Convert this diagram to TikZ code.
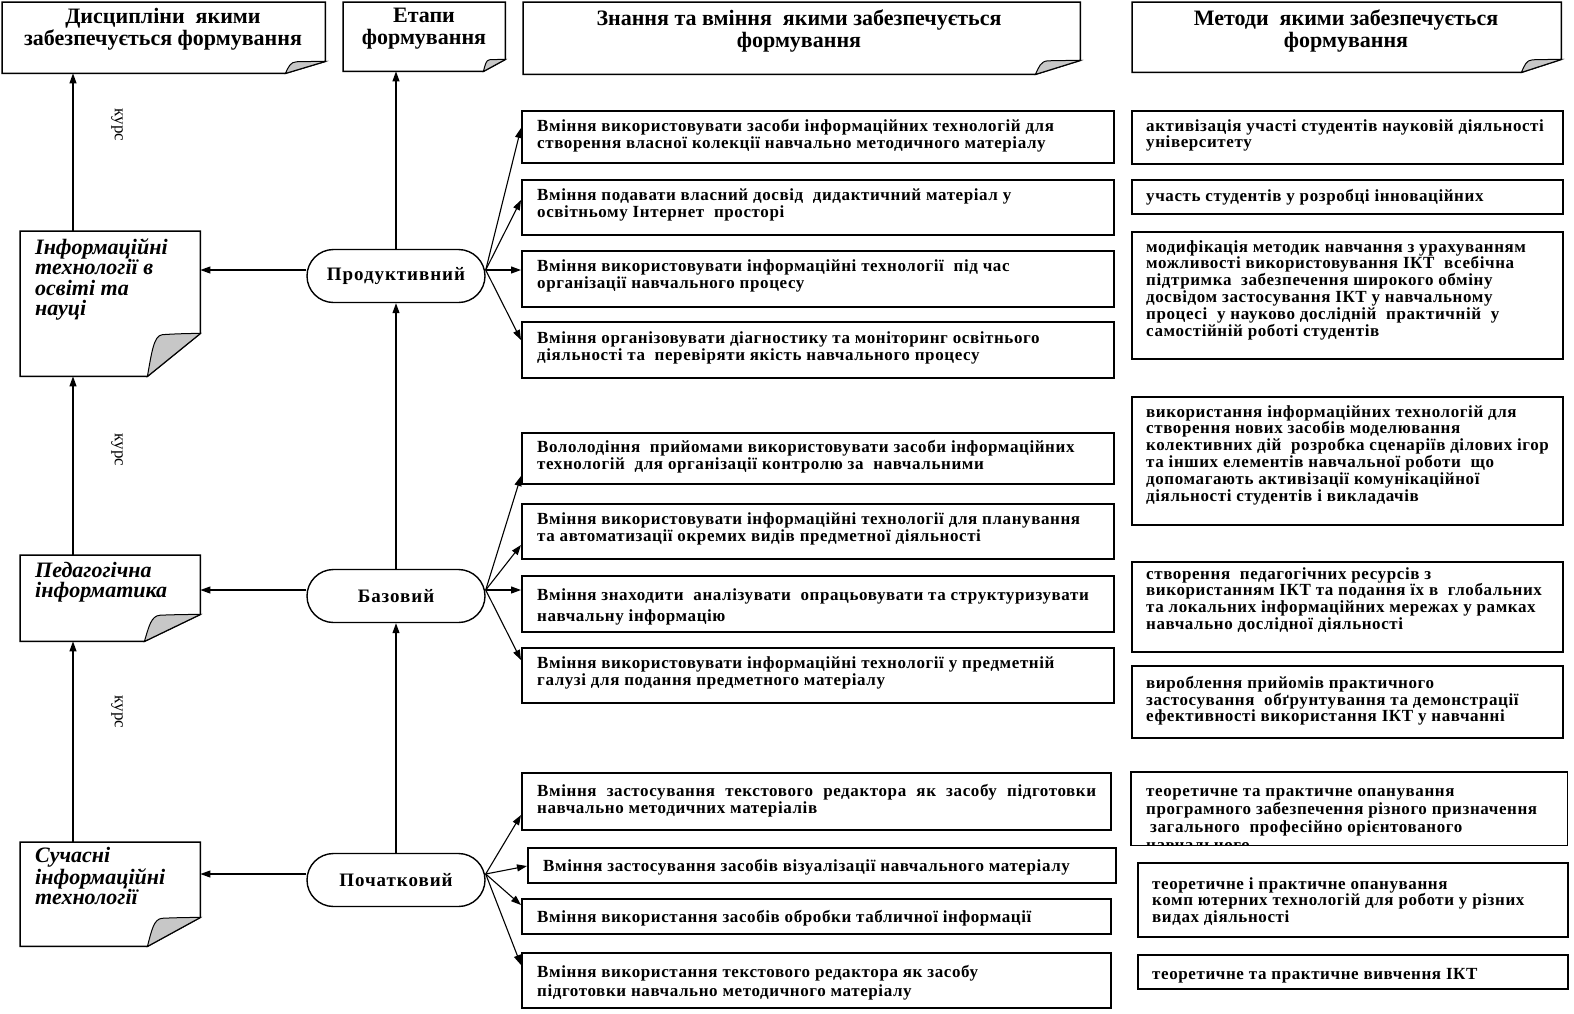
\documentclass[tikz,border=0pt]{standalone}
\usepackage{fontspec}
\setmainfont{Liberation Serif}
\usetikzlibrary{arrows.meta,calc,shapes.misc}
\tikzset{
 boxline/.style={line width=1.5pt, draw=black},
 box/.style={draw=black, line width=1.6pt, inner sep=0pt, anchor=north west},
 foldc/.style={fill=black!22, draw=black, line width=1pt},
 arr/.style={line width=1.1pt, -{Triangle[length=10pt,width=7pt]}},
 ktext/.style={font=\fontsize{17}{17}\selectfont\bfseries\addfontfeatures{LetterSpace=3.5}, align=left, inner sep=0pt, anchor=north west, execute at begin node=\strut},
 mtext/.style={ktext, font=\fontsize{17}{16.8}\selectfont\bfseries\addfontfeatures{LetterSpace=3.5}},
 htext/.style={font=\fontsize{22}{22}\selectfont\bfseries, align=center, inner sep=0pt},
 ltext/.style={font=\fontsize{22}{20.5}\selectfont\bfseries\itshape, align=left, inner sep=0pt, anchor=north west, execute at begin node=\strut},
 oval/.style={rounded rectangle, draw=black, line width=1.4pt, minimum width=178pt, minimum height=53pt, inner sep=0pt, font=\fontsize{19}{19}\selectfont\bfseries\addfontfeatures{LetterSpace=5}},
 kurs/.style={font=\fontsize{17}{17}\selectfont, rotate=-90, inner sep=0pt}
}
\newcommand\bx[5]{\node[box, minimum width={#4-#2}, minimum height={#5-#3}] (#1) at (#2,#3) {};}
\newcommand\dbx[5]{\node[inner sep=0pt, anchor=north west, minimum width={#4-#2}, minimum height={#5-#3}] (#1) at (#2,#3) {};}
\newcommand\dogear[3]{%
 \draw[boxline] (#1.north west) -- (#1.north east) -- ($(#1.south east)+(0,-#3)$) -- ($(#1.south east)+(-#2,0)$) -- (#1.south west) -- cycle;
 \filldraw[foldc] ($(#1.south east)+(-#2,0)$) .. controls ($(#1.south east)+({-0.92*#2},{-0.55*#3})$) and ($(#1.south east)+({-0.88*#2},{-0.95*#3})$) .. ($(#1.south east)+({-0.72*#2},{-0.97*#3})$) .. controls ($(#1.south east)+({-0.5*#2},{-0.99*#3})$) and ($(#1.south east)+({-0.2*#2},{-1*#3})$) .. ($(#1.south east)+(0,-#3)$) -- cycle;
}
\begin{document}
\begin{tikzpicture}[x=1pt,y=-1pt]
\fill[white] (0,0) rectangle (1574,1013);
\useasboundingbox (0,0) rectangle (1574,1013);

% headers
\dbx{h1}{2}{2}{325}{73}\dogear{h1}{40}{12}
\dbx{h2}{343}{2}{505}{71}\dogear{h2}{22}{12}
\dbx{h3}{523}{2}{1080}{74}\dogear{h3}{45}{14}
\dbx{h4}{1132}{2}{1561}{72}\dogear{h4}{40}{13}
\node[htext] (h1t) at (163,29) {Дисципліни~ якими\\забезпечується формування};
\node[htext] (h2t) at (424,29) {Етапи\\формування};
\node[htext] (h3t) at (799,31) {Знання та вміння~ якими забезпечується\\формування};
\node[htext] (h4t) at (1346,31) {Методи~ якими забезпечується\\формування};

% left documents
\dbx{l1}{20}{231}{200}{376}\dogear{l1}{53}{43}
\dbx{l2}{20}{555}{200}{641}\dogear{l2}{56}{27}
\dbx{l3}{20}{842}{200}{946}\dogear{l3}{53}{29}
\node[ltext] (l1t) at (35,238) {Інформаційні\\технології в\\освіті та\\науці};
\node[ltext] (l2t) at (35,562) {Педагогічна\\інформатика};
\node[ltext] (l3t) at (35,847) {Сучасні\\інформаційні\\технології};

\draw[arr] (l1.north -| 73,0) -- (h1.south -| 73,0);
\draw[arr] (l2.north -| 73,0) -- (l1.south -| 73,0);
\draw[arr] (l3.north -| 73,0) -- (l2.south -| 73,0);
\node[kurs] (c1) at (117,125) {курс};
\node[kurs] (c2) at (117,450) {курс};
\node[kurs] (c3) at (117,712) {курс};

% ovals
\node[oval] (o1) at (396,276) {Продуктивний};
\node[oval] (o2) at (396,596) {Базовий};
\node[oval] (o3) at (396,880) {Початковий};
\draw[arr] (o1.north) -- (o1.north |- h2.south);
\draw[arr] (o2.north) -- (o1.south);
\draw[arr] (o3.north) -- (o2.south);
\coordinate (o1l) at ([yshift=6pt]o1.west);
\coordinate (o2l) at ([yshift=6pt]o2.west);
\coordinate (o3l) at ([yshift=6pt]o3.west);
\coordinate (o1r) at ([yshift=6pt]o1.east);
\coordinate (o2r) at ([yshift=6pt]o2.east);
\coordinate (o3r) at ([yshift=6pt]o3.east);
\draw[arr] (o1l) -- (o1l -| l1.east);
\draw[arr] (o2l) -- (o2l -| l2.east);
\draw[arr] (o3l) -- (o3l -| l3.east);

% knowledge boxes
\bx{k1}{521}{110}{1113}{162}
\bx{k2}{521}{179}{1113}{234}
\bx{k3}{521}{250}{1113}{306}
\bx{k4}{521}{321}{1113}{377}
\bx{k5}{521}{432}{1113}{483}
\bx{k6}{521}{503}{1113}{558}
\bx{k7}{521}{575}{1113}{631}
\bx{k8}{521}{647}{1113}{702}
\bx{k9}{521}{772}{1110}{829}
\bx{k10}{527}{847}{1115}{882}
\bx{k11}{521}{898}{1110}{933}
\bx{k12}{521}{952}{1110}{1007}

\node[ktext] (k1t) at (537,119) {Вміння використовувати засоби інформаційних технологій для\\створення власної колекції навчально методичного матеріалу};
\node[ktext] (k2t) at (537,188) {Вміння подавати власний досвід~ дидактичний матеріал у\\освітньому Інтернет~ просторі};
\node[ktext] (k3t) at (537,259) {Вміння використовувати інформаційні технології~ під час\\організації навчального процесу};
\node[ktext] (k4t) at (537,331) {Вміння організовувати діагностику та моніторинг освітнього\\діяльності та~ перевіряти якість навчального процесу};
\node[ktext] (k5t) at (537,440) {Вололодіння~ прийомами використовувати засоби інформаційних\\технологій~ для організації контролю за~ навчальними};
\node[ktext] (k6t) at (537,512) {Вміння використовувати інформаційні технології для планування\\та автоматизації окремих видів предметної діяльності};
\node[ktext, font=\fontsize{17}{21}\selectfont\bfseries\addfontfeatures{LetterSpace=3.5}] (k7t) at (537,588) {Вміння знаходити~ аналізувати~ опрацьовувати та структуризувати\\навчальну інформацію};
\node[ktext] (k8t) at (537,656) {Вміння використовувати інформаційні технології у предметній\\галузі для подання предметного матеріалу};
\node[ktext] (k9t) at (537,784) {\makebox[559pt][s]{Вміння застосування текстового редактора як засобу підготовки}\\навчально методичних матеріалів};
\node[ktext] (k10t) at (543,859) {Вміння застосування засобів візуалізації навчального матеріалу};
\node[ktext] (k11t) at (537,910) {Вміння використання засобів обробки табличної інформації};
\node[ktext, font=\fontsize{17}{19}\selectfont\bfseries\addfontfeatures{LetterSpace=3.5}] (k12t) at (537,965) {Вміння використання текстового редактора як засобу\\підготовки навчально методичного матеріалу};

% fan arrows
\draw[arr] (o1r) -- (k1.west |- 0,128);
\draw[arr] (o1r) -- (k2.west |- 0,200);
\draw[arr] (o1r) -- (o1r -| k3.west);
\draw[arr] (o1r) -- (k4.west |- 0,340);
\draw[arr] (o2r) -- (k5.west |- 0,476);
\draw[arr] (o2r) -- (k6.west |- 0,545);
\draw[arr] (o2r) -- (o2r -| k7.west);
\draw[arr] (o2r) -- (k8.west |- 0,660);
\draw[arr] (o3r) -- (k9.west |- 0,815);
\draw[arr] (o3r) -- (k10.west |- 0,866);
\draw[arr] (o3r) -- (k11.west |- 0,905);
\draw[arr] (o3r) -- (k12.west |- 0,965);

% method boxes
\bx{m1}{1131}{110}{1562}{163}
\bx{m2}{1131}{179}{1562}{213}
\bx{m3}{1131}{231}{1562}{358}
\bx{m4}{1131}{396}{1562}{524}
\bx{m5}{1131}{561}{1562}{651}
\bx{m6}{1131}{665}{1562}{737}
\dbx{m7}{1131}{772}{1567}{845}
\bx{m8}{1137}{862}{1567}{936}
\bx{m9}{1137}{954}{1567}{988}

\node[mtext] (m1t) at (1146,119) {активізація участі студентів науковій діяльності\\університету};
\node[mtext] (m2t) at (1146,189) {участь студентів у розробці інноваційних};
\node[mtext] (m3t) at (1146,240) {модифікація методик навчання з урахуванням\\можливості використовування ІКТ~ всебічна\\підтримка~ забезпечення широкого обміну\\досвідом застосування ІКТ у навчальному\\процесі~ у науково дослідній~ практичній~ у\\самостійній роботі студентів};
\node[mtext] (m4t) at (1146,405) {використання інформаційних технологій для\\створення нових засобів моделювання\\колективних дій~ розробка сценаріїв ділових ігор\\та інших елементів навчальної роботи~ що\\допомагають активізації комунікаційної\\діяльності студентів і викладачів};
\node[mtext] (m5t) at (1146,567) {створення~ педагогічних ресурсів з\\використанням ІКТ та подання їх в~ глобальних\\та локальних інформаційних мережах у рамках\\навчально дослідної діяльності};
\node[mtext] (m6t) at (1146,676) {вироблення прийомів практичного\\застосування~ обґрунтування та демонстрації\\ефективності використання ІКТ у навчанні};
\begin{scope}
\clip (m7.north west) rectangle ([yshift=1pt]m7.south east);
\node[mtext, font=\fontsize{17}{18}\selectfont\bfseries\addfontfeatures{LetterSpace=3.5}] (m7t) at (1146,788) {теоретичне та практичне опанування\\програмного забезпечення різного призначення\\\hspace*{4pt}загального~ професійно орієнтованого\\навчального};
\end{scope}
\draw[box] (m7.north west) rectangle (m7.south east);
\node[mtext] (m8t) at (1152,877) {теоретичне і практичне опанування\\комп ютерних технологій для роботи у різних\\видах діяльності};
\node[mtext] (m9t) at (1152,968) {теоретичне та практичне вивчення ІКТ};
\end{tikzpicture}
\end{document}
